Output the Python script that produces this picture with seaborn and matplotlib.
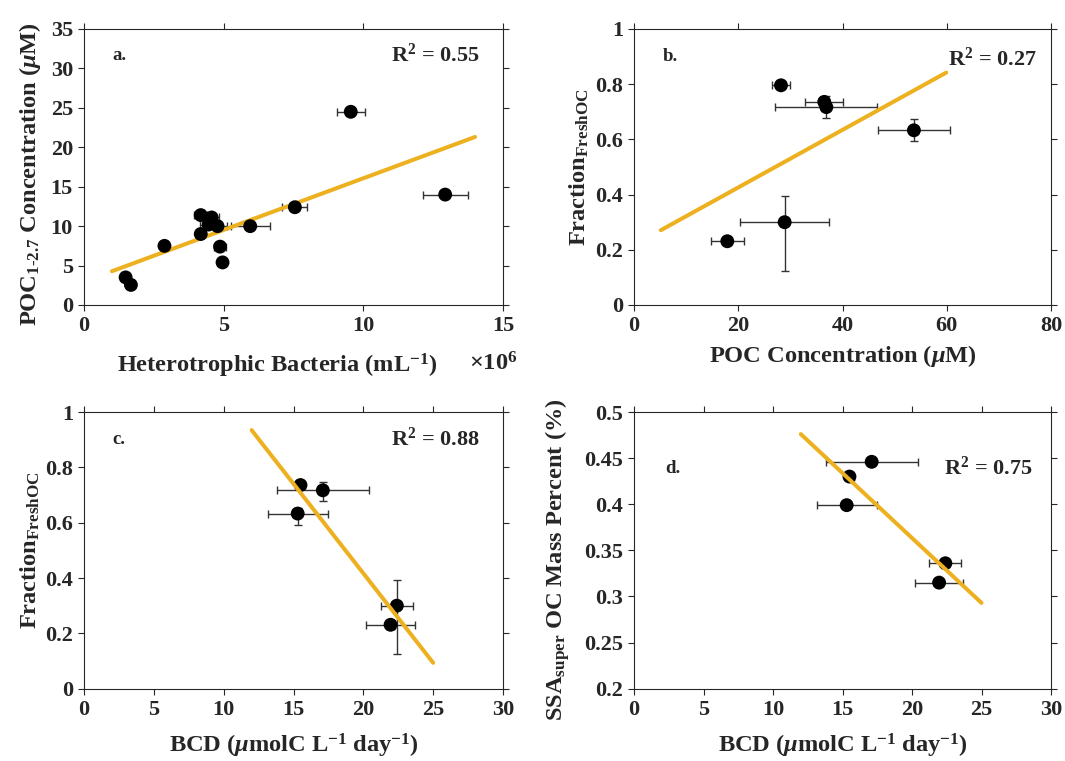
import numpy as np
import matplotlib
matplotlib.use("Agg")
import matplotlib.pyplot as plt
from matplotlib.font_manager import FontProperties
import seaborn as sns

# ---- panel a: heterotrophic bacteria vs POC(1-2.7) ----
bact = [9.55, 12.93, 7.55, 5.95, 4.78, 4.57, 4.18, 4.46, 4.18, 2.88, 4.87, 4.96, 1.49, 1.68]
bact_err = [0.5, 0.8, 0.45, 0.7, 0.33, 0.27, 0.23, 0.3, 0.15, 0.0, 0.22, 0.0, 0.0, 0.0]
poc_small = [24.5, 14.0, 12.4, 10.0, 10.0, 11.1, 11.4, 10.2, 9.0, 7.5, 7.4, 5.4, 3.5, 2.55]
fit_a = [1.31, 2.97]          # slope, intercept
fit_a_range = [1.0, 14.0]

# ---- panel b: POC concentration vs fresh OC fraction ----
poc_total = [28.2, 36.5, 36.9, 53.7, 28.9, 17.9]
poc_total_err = [1.8, 3.6, 9.8, 6.9, 8.6, 3.2]
fresh_b = [0.796, 0.736, 0.717, 0.633, 0.300, 0.231]
fresh_b_lo = [0.01, 0.01, 0.04, 0.04, 0.176, 0.015]
fresh_b_hi = [0.01, 0.01, 0.04, 0.04, 0.094, 0.015]
fit_b = [0.01043, 0.2173]
fit_b_range = [5.15, 59.9]

# ---- panels c and d: bacterial carbon demand ----
bcd = [15.5, 17.1, 15.3, 22.4, 21.95]
bcd_err = [0.3, 3.3, 2.15, 1.15, 1.75]
fresh_c = [0.736, 0.717, 0.633, 0.300, 0.231]
fresh_c_lo = [0.01, 0.04, 0.04, 0.176, 0.015]
fresh_c_hi = [0.01, 0.03, 0.02, 0.094, 0.015]
fit_c = [-0.0647, 1.711]
fit_c_range = [12.0, 25.0]

oc_mass = [0.430, 0.446, 0.399, 0.336, 0.315]
fit_d = [-0.01408, 0.645]
fit_d_range = [12.0, 25.0]

# tick values and their labels
ticks_a_x = [0, 5, 10, 15]
ticks_a_y = [0, 5, 10, 15, 20, 25, 30, 35]
ticks_b_x = [0, 20, 40, 60, 80]
ticks_frac = [0, 0.2, 0.4, 0.6, 0.8, 1]
ticks_bcd = [0, 5, 10, 15, 20, 25, 30]
ticks_d_y = [0.2, 0.25, 0.3, 0.35, 0.4, 0.45, 0.5]

r2_values = ["0.55", "0.27", "0.88", "0.75"]
panel_tags = ["a.", "b.", "c.", "d."]

sns.set_style("ticks")
plt.rcParams["font.family"] = ["Liberation Serif", "DejaVu Serif"]
plt.rcParams["font.weight"] = "bold"
plt.rcParams["mathtext.fontset"] = "custom"
plt.rcParams["mathtext.rm"] = "Liberation Serif:bold"
plt.rcParams["mathtext.it"] = "Liberation Serif:italic:bold"
plt.rcParams["mathtext.bf"] = "Liberation Serif:bold"

LINE_COLOR = "#EDB120"
AXIS_COLOR = "#262626"
ERR_COLOR = "#333333"

W, H = 1065, 761
fig = plt.figure(figsize=(W / 100, H / 100), dpi=100)


def box(left, top, right, bottom):
    return [left / W, 1 - bottom / H, (right - left) / W, (bottom - top) / H]


ax_a = fig.add_axes(box(84, 29, 503, 305))
ax_b = fig.add_axes(box(634, 29, 1051, 305))
ax_c = fig.add_axes(box(84, 412, 503, 688.7))
ax_d = fig.add_axes(box(634, 412, 1051, 688.7))
axes = [ax_a, ax_b, ax_c, ax_d]

TICK_FONT = FontProperties(family="Liberation Serif", weight="bold", size=16)
LABEL_FS = 17.6


def style(ax, xlim, xticks, ylim, yticks):
    ax.set_xlim(*xlim)
    ax.set_ylim(*ylim)
    ax.set_xticks(xticks, labels=["%g" % v for v in xticks])
    ax.set_yticks(yticks, labels=["%g" % v for v in yticks])
    for s in ax.spines.values():
        s.set_visible(True)
        s.set_color(AXIS_COLOR)
        s.set_linewidth(0.8)
    ax.tick_params(direction="out", top=True, right=True, length=4, width=0.8,
                   color=AXIS_COLOR, pad=4, labeltop=False, labelright=False)
    for lab in ax.get_xticklabels() + ax.get_yticklabels():
        lab.set_fontproperties(TICK_FONT)


def draw(ax, x, y, xerr, yerr, fit, fit_range, line_on_top):
    ax.errorbar(x, y, xerr=xerr, yerr=yerr, fmt="none", ecolor=ERR_COLOR,
                elinewidth=1.0, capsize=3, capthick=1.0, zorder=2)
    sns.scatterplot(x=x, y=y, ax=ax, color="black", s=100, edgecolor="none",
                    zorder=4, legend=False)
    xs = np.array(fit_range)
    sns.lineplot(x=xs, y=fit[0] * xs + fit[1], ax=ax, color=LINE_COLOR,
                 linewidth=2.9, zorder=5 if line_on_top else 3, legend=False)


draw(ax_a, bact, poc_small, bact_err, None, fit_a, fit_a_range, False)
draw(ax_b, poc_total, fresh_b, poc_total_err, [fresh_b_lo, fresh_b_hi], fit_b, fit_b_range, False)
draw(ax_c, bcd, fresh_c, bcd_err, [fresh_c_lo, fresh_c_hi], fit_c, fit_c_range, True)
draw(ax_d, bcd, oc_mass, bcd_err, None, fit_d, fit_d_range, True)

style(ax_a, (0, 15), ticks_a_x, (0, 35), ticks_a_y)
style(ax_b, (0, 80), ticks_b_x, (0, 1), ticks_frac)
style(ax_c, (0, 30), ticks_bcd, (0, 1), ticks_frac)
style(ax_d, (0, 30), ticks_bcd, (0.2, 0.5), ticks_d_y)

# axis titles
bcd_label = r"BCD ($\mu$molC L$^{\mathrm{-1}}$ day$^{\mathrm{-1}}$)"
ax_a.set_ylabel("POC$_{\\mathrm{1\u20102.7}}$ Concentration ($\\mu$M)", fontsize=LABEL_FS, fontweight="bold")
ax_a.set_xlabel(r"Heterotrophic Bacteria (mL$^{\mathrm{-1}}$)", fontsize=LABEL_FS, fontweight="bold")
ax_b.set_ylabel(r"Fraction$_{\mathrm{FreshOC}}$", fontsize=LABEL_FS, fontweight="bold")
ax_b.set_xlabel(r"POC Concentration ($\mu$M)", fontsize=LABEL_FS, fontweight="bold")
ax_c.set_ylabel(r"Fraction$_{\mathrm{FreshOC}}$", fontsize=LABEL_FS, fontweight="bold")
ax_c.set_xlabel(bcd_label, fontsize=LABEL_FS, fontweight="bold")
ax_d.set_ylabel(r"SSA$_{\mathrm{super}}$ OC Mass Percent (%)", fontsize=LABEL_FS, fontweight="bold")
ax_d.set_xlabel(bcd_label, fontsize=LABEL_FS, fontweight="bold")

ax_a.yaxis.set_label_coords(-0.098, 0.476)
ax_b.yaxis.set_label_coords(-0.104, 0.5)
ax_c.yaxis.set_label_coords(-0.101, 0.5)
ax_d.yaxis.set_label_coords(-0.149, 0.465)

ax_a.xaxis.set_label_coords(0.46, -0.17)
ax_b.xaxis.set_label_coords(0.5, -0.138)
ax_c.xaxis.set_label_coords(0.5, -0.155)
ax_d.xaxis.set_label_coords(0.5, -0.155)

# scale factor of the bacteria axis
ax_a.text(0.976, -0.17, r"$\times$10$^{\mathrm{6}}$", transform=ax_a.transAxes,
          ha="center", va="top", fontsize=LABEL_FS, fontweight="bold")

# panel tags and R^2 annotations
tag_pos = [(0.068, 0.905), (0.068, 0.9), (0.068, 0.9), (0.075, 0.795)]
r2_pos = [(0.945, 0.905), (0.965, 0.89), (0.945, 0.9), (0.955, 0.797)]
for ax, tag, tp, r2, rp in zip(axes, panel_tags, tag_pos, r2_values, r2_pos):
    ax.text(tp[0], tp[1], tag, transform=ax.transAxes, ha="left", va="center",
            fontsize=13.5, fontweight="bold")
    ax.text(rp[0], rp[1], r"R$^{\mathrm{2}}$ = " + r2, transform=ax.transAxes,
            ha="right", va="center", fontsize=16, fontweight="bold")

fig.savefig("out.png", dpi=100, facecolor="white")
